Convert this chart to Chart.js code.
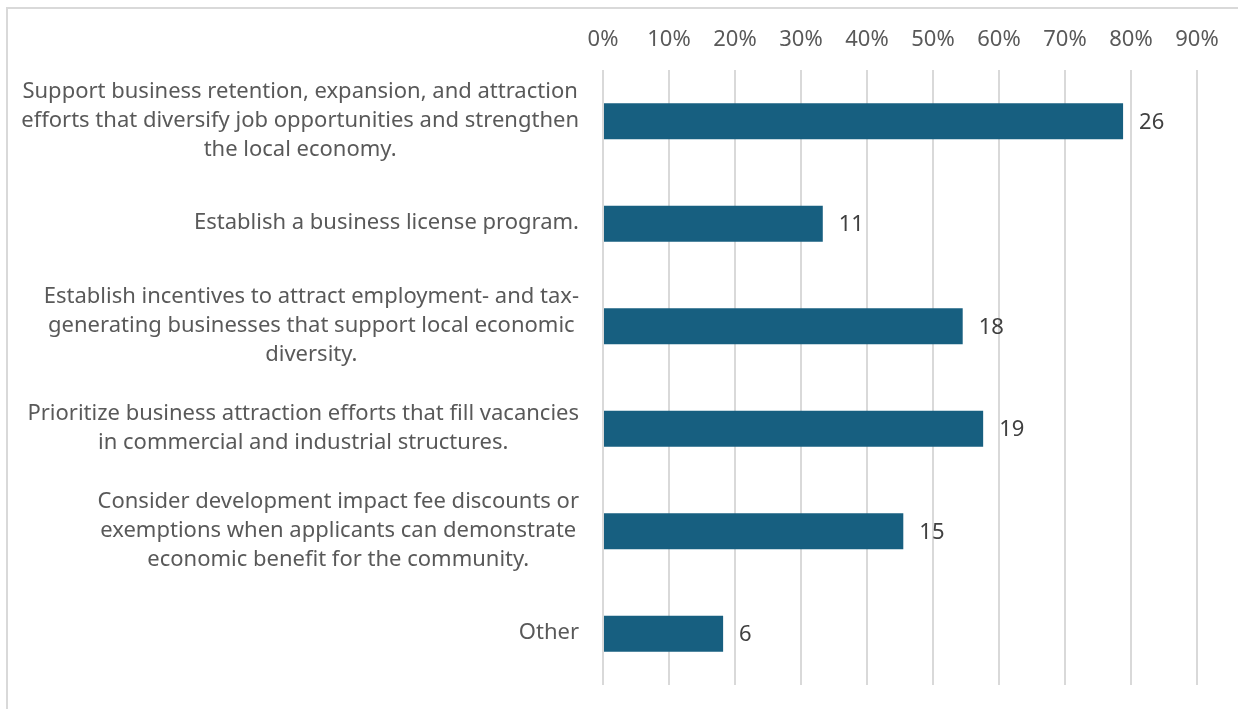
<!DOCTYPE html>
<html>
<head>
<meta charset="utf-8">
<script src="https://cdn.jsdelivr.net/npm/chart.js@4"></script>
<style>
  html, body { margin: 0; padding: 0; background: #fff; overflow: hidden; }
  #frame {
    position: absolute; left: 6px; top: 7px; width: 3000px; height: 3000px;
    border-left: 2px solid #d9d9d9; border-top: 2px solid #d9d9d9;
  }
  #chart_area { position: absolute; left: 0; top: 0; }
</style>
</head>
<body>
<div id="frame"></div>
<canvas id="chart_area" width="1238" height="709"></canvas>
<script>
"use strict";

// chart data
var categories = [
    ["Support business retention, expansion, and attraction", "efforts that diversify job opportunities and strengthen", "the local economy."],
    ["Establish a business license program."],
    ["Establish incentives to attract employment- and tax-", "generating businesses that support local economic", "diversity."],
    ["Prioritize business attraction efforts that fill vacancies", "in commercial and industrial structures."],
    ["Consider development impact fee discounts or", "exemptions when applicants can demonstrate", "economic benefit for the community."],
    ["Other"]
];
var percents = [78.8, 33.3, 54.5, 57.6, 45.5, 18.2];
var counts = [26, 11, 18, 19, 15, 6];
var tickLabels = ["0%", "10%", "20%", "30%", "40%", "50%", "60%", "70%", "80%", "90%"];

var fontFamily = "'Noto Sans', 'Open Sans', sans-serif";

// category labels: block right aligned, lines centred inside the block
var categoryLabels = {
    id: "categoryLabels",
    afterDraw: function (chart) {
        var ctx = chart.ctx;
        var yScale = chart.scales.y;
        var lineHeight = 29;
        ctx.save();
        ctx.font = "22px " + fontFamily;
        ctx.fillStyle = "#595959";
        ctx.textAlign = "center";
        ctx.textBaseline = "middle";
        yScale.ticks.forEach(function (tick, i) {
            var lines = categories[i];
            var widest = 0;
            lines.forEach(function (l) { widest = Math.max(widest, ctx.measureText(l).width); });
            var cx = yScale.right - 24 - widest / 2;
            var cy = yScale.getPixelForTick(i) - 1;
            var top = cy - (lines.length - 1) * lineHeight / 2;
            lines.forEach(function (l, j) { ctx.fillText(l, cx, top + j * lineHeight); });
        });
        ctx.restore();
    }
};

// count labels next to each bar
var countLabels = {
    id: "countLabels",
    afterDatasetsDraw: function (chart) {
        var ctx = chart.ctx;
        ctx.save();
        ctx.font = "22px " + fontFamily;
        ctx.fillStyle = "#404040";
        ctx.textAlign = "left";
        ctx.textBaseline = "middle";
        chart.getDatasetMeta(0).data.forEach(function (bar, i) {
            ctx.fillText(String(counts[i]), bar.x + 16, bar.y + 1);
        });
        ctx.restore();
    }
};

var createdChartArea = document.getElementById("chart_area");
var createdBarChart = new Chart(createdChartArea, {
    type: 'bar',
    data: {
        labels: categories.map(function (c) { return c.join(" "); }),
        datasets: [
            {
                label: "Responses",
                backgroundColor: '#175f80',
                borderWidth: 0,
                data: percents,
                barPercentage: 0.35,
                categoryPercentage: 1
            }
        ]
    },
    options: {
        indexAxis: 'y',
        responsive: false,
        animation: false,
        layout: { padding: { left: 0, right: 41, top: 0, bottom: 24 } },
        plugins: {
            legend: { display: false },
            tooltip: { enabled: false }
        },
        scales: {
            x: {
                position: 'top',
                min: 0,
                max: 90,
                afterFit: function (scale) { scale.height = 70; },
                grid: { color: '#d9d9d9', lineWidth: 2, drawTicks: false },
                border: { display: false },
                ticks: {
                    stepSize: 10,
                    padding: 17,
                    color: '#595959',
                    font: { family: fontFamily, size: 22 },
                    callback: function (value, index) { return tickLabels[index]; }
                }
            },
            y: {
                afterFit: function (scale) { scale.width = 603; },
                grid: { display: false, drawTicks: false },
                border: { display: false },
                ticks: { display: false }
            }
        }
    },
    plugins: [categoryLabels, countLabels]
});
</script>
</body>
</html>
